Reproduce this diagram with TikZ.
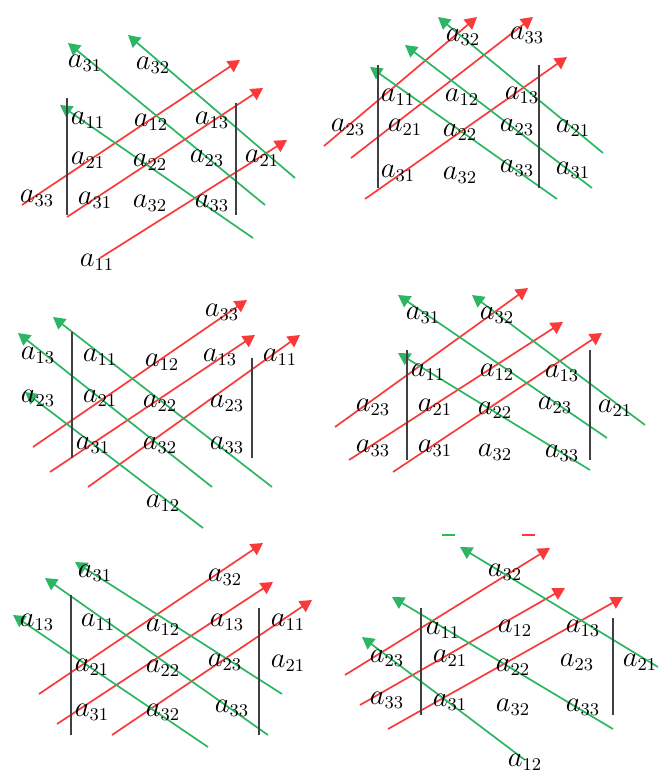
\documentclass[tikz,border=0pt]{standalone}
\usetikzlibrary{arrows.meta}

\definecolor{diagred}{RGB}{250,58,58}
\definecolor{diaggreen}{RGB}{44,182,100}

\tikzset{
  el/.style={font=\fontsize{13.5}{16}\selectfont, inner sep=0pt},
  redline/.style={diagred, line width=0.85pt, -{Triangle[length=6pt,width=6.5pt]}},
  greenline/.style={diaggreen, line width=0.85pt, -{Triangle[length=6pt,width=6.5pt]}},
  bar/.style={black!75, line width=0.8pt}
}

\begin{document}
\begin{tikzpicture}[x=0.5pt,y=-0.5pt]
  \useasboundingbox (0,0) rectangle (659,776);

  % ---------- panel 1 (top left) ----------
  % free ends of the diagonals
  \path (22,205) coordinate (p1r1a) (240,60) coordinate (p1r1b)
        (67,217) coordinate (p1r2a) (263,88) coordinate (p1r2b)
        (100,258) coordinate (p1r3a) (287,140) coordinate (p1r3b)
        (265,205) coordinate (p1g1a) (68,43) coordinate (p1g1b)
        (295,178) coordinate (p1g2a) (128,35) coordinate (p1g2b)
        (253,238) coordinate (p1g3a) (60,105) coordinate (p1g3b);
  \draw[redline] (p1r1a) -- (p1r1b);
  \draw[redline] (p1r2a) -- (p1r2b);
  \draw[redline] (p1r3a) -- (p1r3b);
  \draw[greenline] (p1g1a) -- (p1g1b);
  \draw[greenline] (p1g2a) -- (p1g2b);
  \draw[greenline] (p1g3a) -- (p1g3b);
  % determinant bars
  \draw[bar] (67,98) -- (67,215);
  \draw[bar] (236,103) -- (236,215);
  % entries
  \node[el] (p1-31t) at (85,63) {$a_{31}$};
  \node[el] (p1-32t) at (153,65) {$a_{32}$};
  \node[el] (p1-11) at (88,120) {$a_{11}$};
  \node[el] (p1-12) at (151,122) {$a_{12}$};
  \node[el] (p1-13) at (212,120) {$a_{13}$};
  \node[el] (p1-21) at (88,160) {$a_{21}$};
  \node[el] (p1-22) at (150,162) {$a_{22}$};
  \node[el] (p1-23) at (207,158) {$a_{23}$};
  \node[el] (p1-21r) at (262,158) {$a_{21}$};
  \node[el] (p1-33l) at (37,198) {$a_{33}$};
  \node[el] (p1-31) at (95,200) {$a_{31}$};
  \node[el] (p1-32) at (150,203) {$a_{32}$};
  \node[el] (p1-33) at (212,203) {$a_{33}$};
  \node[el] (p1-11b) at (97,262) {$a_{11}$};

  % ---------- panel 2 (top right) ----------
  \path (324,146) coordinate (p2r1a) (477,17) coordinate (p2r1b)
        (351,158) coordinate (p2r2a) (533,17) coordinate (p2r2b)
        (365,199) coordinate (p2r3a) (567,57) coordinate (p2r3b)
        (603,153) coordinate (p2g1a) (438,17) coordinate (p2g1b)
        (592,188) coordinate (p2g2a) (405,45) coordinate (p2g2b)
        (557,199) coordinate (p2g3a) (370,67) coordinate (p2g3b);
  \draw[redline] (p2r1a) -- (p2r1b);
  \draw[redline] (p2r2a) -- (p2r2b);
  \draw[redline] (p2r3a) -- (p2r3b);
  \draw[greenline] (p2g1a) -- (p2g1b);
  \draw[greenline] (p2g2a) -- (p2g2b);
  \draw[greenline] (p2g3a) -- (p2g3b);
  \draw[bar] (378,65) -- (378,188);
  \draw[bar] (539,65) -- (539,188);
  \node[el] (p2-32t) at (463,37) {$a_{32}$};
  \node[el] (p2-33t) at (527,35) {$a_{33}$};
  \node[el] (p2-11) at (398,97) {$a_{11}$};
  \node[el] (p2-12) at (462,97) {$a_{12}$};
  \node[el] (p2-13) at (522,95) {$a_{13}$};
  \node[el] (p2-23l) at (348,127) {$a_{23}$};
  \node[el] (p2-21) at (405,127) {$a_{21}$};
  \node[el] (p2-22) at (460,132) {$a_{22}$};
  \node[el] (p2-23) at (517,127) {$a_{23}$};
  \node[el] (p2-21r) at (573,128) {$a_{21}$};
  \node[el] (p2-31) at (398,173) {$a_{31}$};
  \node[el] (p2-32) at (460,175) {$a_{32}$};
  \node[el] (p2-33) at (517,168) {$a_{33}$};
  \node[el] (p2-31r) at (573,170) {$a_{31}$};

  % ---------- panel 3 (middle left) ----------
  \path (33,447) coordinate (p3r1a) (247,300) coordinate (p3r1b)
        (50,472) coordinate (p3r2a) (255,335) coordinate (p3r2b)
        (88,487) coordinate (p3r3a) (300,335) coordinate (p3r3b)
        (272,487) coordinate (p3g1a) (53,317) coordinate (p3g1b)
        (212,487) coordinate (p3g2a) (18,333) coordinate (p3g2b)
        (203,528) coordinate (p3g3a) (25,392) coordinate (p3g3b);
  \draw[redline] (p3r1a) -- (p3r1b);
  \draw[redline] (p3r2a) -- (p3r2b);
  \draw[redline] (p3r3a) -- (p3r3b);
  \draw[greenline] (p3g1a) -- (p3g1b);
  \draw[greenline] (p3g2a) -- (p3g2b);
  \draw[greenline] (p3g3a) -- (p3g3b);
  \draw[bar] (72,332) -- (72,458);
  \draw[bar] (252,358) -- (252,458);
  \node[el] (p3-33t) at (222,312) {$a_{33}$};
  \node[el] (p3-13l) at (38,355) {$a_{13}$};
  \node[el] (p3-11) at (100,357) {$a_{11}$};
  \node[el] (p3-12) at (162,362) {$a_{12}$};
  \node[el] (p3-13) at (220,357) {$a_{13}$};
  \node[el] (p3-11r) at (280,357) {$a_{11}$};
  \node[el] (p3-23l) at (38,398) {$a_{23}$};
  \node[el] (p3-21) at (100,398) {$a_{21}$};
  \node[el] (p3-22) at (160,403) {$a_{22}$};
  \node[el] (p3-23) at (227,403) {$a_{23}$};
  \node[el] (p3-31) at (93,445) {$a_{31}$};
  \node[el] (p3-32) at (160,445) {$a_{32}$};
  \node[el] (p3-33) at (227,445) {$a_{33}$};
  \node[el] (p3-12b) at (163,503) {$a_{12}$};

  % ---------- panel 4 (middle right) ----------
  \path (335,427) coordinate (p4r1a) (528,288) coordinate (p4r1b)
        (349,460) coordinate (p4r2a) (563,322) coordinate (p4r2b)
        (393,472) coordinate (p4r3a) (602,333) coordinate (p4r3b)
        (607,438) coordinate (p4g1a) (398,295) coordinate (p4g1b)
        (645,425) coordinate (p4g2a) (472,295) coordinate (p4g2b)
        (590,470) coordinate (p4g3a) (398,353) coordinate (p4g3b);
  \draw[redline] (p4r1a) -- (p4r1b);
  \draw[redline] (p4r2a) -- (p4r2b);
  \draw[redline] (p4r3a) -- (p4r3b);
  \draw[greenline] (p4g1a) -- (p4g1b);
  \draw[greenline] (p4g2a) -- (p4g2b);
  \draw[greenline] (p4g3a) -- (p4g3b);
  \draw[bar] (407,350) -- (407,460);
  \draw[bar] (590,350) -- (590,460);
  \node[el] (p4-31t) at (423,315) {$a_{31}$};
  \node[el] (p4-32t) at (497,315) {$a_{32}$};
  \node[el] (p4-11) at (428,372) {$a_{11}$};
  \node[el] (p4-12) at (497,372) {$a_{12}$};
  \node[el] (p4-13) at (562,373) {$a_{13}$};
  \node[el] (p4-23l) at (373,407) {$a_{23}$};
  \node[el] (p4-21) at (435,407) {$a_{21}$};
  \node[el] (p4-22) at (495,410) {$a_{22}$};
  \node[el] (p4-23) at (555,405) {$a_{23}$};
  \node[el] (p4-21r) at (615,408) {$a_{21}$};
  \node[el] (p4-33l) at (373,448) {$a_{33}$};
  \node[el] (p4-31) at (435,448) {$a_{31}$};
  \node[el] (p4-32) at (495,452) {$a_{32}$};
  \node[el] (p4-33) at (562,453) {$a_{33}$};

  % ---------- panel 5 (bottom left) ----------
  \path (39,694) coordinate (p5r1a) (263,543) coordinate (p5r1b)
        (57,724) coordinate (p5r2a) (273,582) coordinate (p5r2b)
        (112,735) coordinate (p5r3a) (312,600) coordinate (p5r3b)
        (282,694) coordinate (p5g1a) (75,562) coordinate (p5g1b)
        (268,735) coordinate (p5g2a) (45,578) coordinate (p5g2b)
        (208,747) coordinate (p5g3a) (13,615) coordinate (p5g3b);
  \draw[redline] (p5r1a) -- (p5r1b);
  \draw[redline] (p5r2a) -- (p5r2b);
  \draw[redline] (p5r3a) -- (p5r3b);
  \draw[greenline] (p5g1a) -- (p5g1b);
  \draw[greenline] (p5g2a) -- (p5g2b);
  \draw[greenline] (p5g3a) -- (p5g3b);
  \draw[bar] (71,595) -- (71,735);
  \draw[bar] (259,608) -- (259,735);
  \node[el] (p5-31t) at (95,573) {$a_{31}$};
  \node[el] (p5-32t) at (225,577) {$a_{32}$};
  \node[el] (p5-13l) at (37,622) {$a_{13}$};
  \node[el] (p5-11) at (98,622) {$a_{11}$};
  \node[el] (p5-12) at (163,627) {$a_{12}$};
  \node[el] (p5-13) at (227,622) {$a_{13}$};
  \node[el] (p5-11r) at (288,622) {$a_{11}$};
  \node[el] (p5-21) at (92,667) {$a_{21}$};
  \node[el] (p5-22) at (163,668) {$a_{22}$};
  \node[el] (p5-23) at (225,662) {$a_{23}$};
  \node[el] (p5-21r) at (288,663) {$a_{21}$};
  \node[el] (p5-31) at (92,712) {$a_{31}$};
  \node[el] (p5-32) at (163,712) {$a_{32}$};
  \node[el] (p5-33) at (232,708) {$a_{33}$};

  % ---------- panel 6 (bottom right) ----------
  \path (345,675) coordinate (p6r1a) (550,548) coordinate (p6r1b)
        (360,705) coordinate (p6r2a) (565,588) coordinate (p6r2b)
        (388,729) coordinate (p6r3a) (623,597) coordinate (p6r3b)
        (658,667) coordinate (p6g1a) (460,547) coordinate (p6g1b)
        (613,729) coordinate (p6g2a) (392,597) coordinate (p6g2b)
        (525,760) coordinate (p6g3a) (362,637) coordinate (p6g3b);
  \draw[redline] (p6r1a) -- (p6r1b);
  \draw[redline] (p6r2a) -- (p6r2b);
  \draw[redline] (p6r3a) -- (p6r3b);
  \draw[greenline] (p6g1a) -- (p6g1b);
  \draw[greenline] (p6g2a) -- (p6g2b);
  \draw[greenline] (p6g3a) -- (p6g3b);
  % small stray marks above
  \draw[diaggreen, line width=0.8pt] (442,535) -- (455,535);
  \draw[diagred, line width=0.8pt] (522,535) -- (535,535);
  \draw[bar] (421,608) -- (421,715);
  \draw[bar] (613,618) -- (613,715);
  \node[el] (p6-32t) at (505,572) {$a_{32}$};
  \node[el] (p6-11) at (443,630) {$a_{11}$};
  \node[el] (p6-12) at (515,628) {$a_{12}$};
  \node[el] (p6-13) at (583,628) {$a_{13}$};
  \node[el] (p6-23l) at (387,658) {$a_{23}$};
  \node[el] (p6-21) at (450,658) {$a_{21}$};
  \node[el] (p6-22) at (513,667) {$a_{22}$};
  \node[el] (p6-23) at (577,662) {$a_{23}$};
  \node[el] (p6-21r) at (640,662) {$a_{21}$};
  \node[el] (p6-33l) at (387,700) {$a_{33}$};
  \node[el] (p6-31) at (450,702) {$a_{31}$};
  \node[el] (p6-32) at (513,707) {$a_{32}$};
  \node[el] (p6-33) at (583,707) {$a_{33}$};
  \node[el] (p6-12b) at (525,762) {$a_{12}$};

\end{tikzpicture}
\end{document}
